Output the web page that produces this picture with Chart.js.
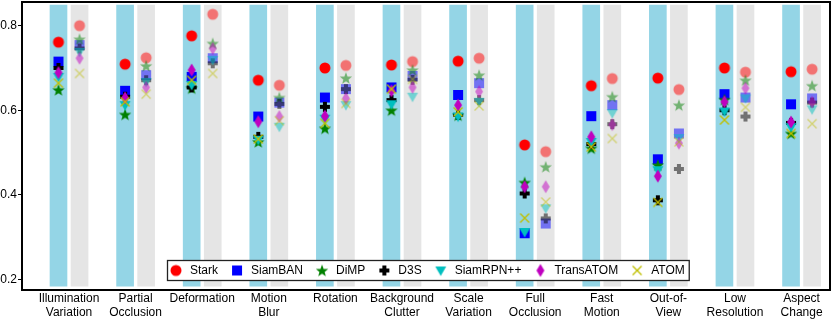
<!DOCTYPE html>
<html lang="en">
<head>
    <meta charset="UTF-8">
    <title>Attribute comparison</title>
    <script src="https://cdn.jsdelivr.net/npm/chart.js@4.4.0/dist/chart.umd.min.js"></script>
    <style>
        html, body { margin: 0; padding: 0; background: #fff; }
        canvas { display: block; }
    </style>
</head>
<body>
<canvas id="chart" width="831" height="324"></canvas>
<script>
    // attribute categories (x axis)
    const categories = [
        ['Illumination', 'Variation'], ['Partial', 'Occlusion'], ['Deformation'], ['Motion', 'Blur'],
        ['Rotation'], ['Background', 'Clutter'], ['Scale', 'Variation'], ['Full', 'Occlusion'],
        ['Fast', 'Motion'], ['Out-of-', 'View'], ['Low', 'Resolution'], ['Aspect', 'Change'],
    ]
    const yTicks = [0.2, 0.4, 0.6, 0.8]
    const barLow = 0.184
    const barHigh = 0.849

    const methods = ['Stark', 'SiamBAN', 'DiMP', 'D3S', 'SiamRPN++', 'TransATOM', 'ATOM']

    // left (blue) column of each group
    const starkA     = [0.761, 0.709, 0.776, 0.671, 0.700, 0.707, 0.716, 0.518, 0.658, 0.676, 0.700, 0.691]
    const siambanA   = [0.715, 0.646, 0.679, 0.585, 0.630, 0.654, 0.636, 0.309, 0.586, 0.484, 0.638, 0.614]
    const dimpA      = [0.648, 0.590, 0.652, 0.525, 0.557, 0.600, 0.588, 0.429, 0.510, 0.470, 0.625, 0.545]
    const d3sA       = [0.700, 0.632, 0.654, 0.537, 0.608, 0.624, 0.589, 0.403, 0.520, 0.387, 0.600, 0.570]
    const siamrpnA   = [0.679, 0.612, 0.660, 0.530, 0.580, 0.614, 0.585, 0.312, 0.525, 0.458, 0.597, 0.560]
    const transatomA = [0.689, 0.629, 0.695, 0.573, 0.586, 0.646, 0.612, 0.419, 0.537, 0.444, 0.620, 0.572]
    const atomA      = [0.664, 0.620, 0.671, 0.532, 0.569, 0.650, 0.596, 0.345, 0.513, 0.382, 0.577, 0.545]

    // right (grey) column of each group
    const starkB     = [0.800, 0.724, 0.827, 0.659, 0.706, 0.715, 0.723, 0.502, 0.675, 0.649, 0.690, 0.697]
    const siambanB   = [0.754, 0.683, 0.723, 0.618, 0.650, 0.681, 0.664, 0.332, 0.612, 0.545, 0.630, 0.628]
    const dimpB      = [0.768, 0.705, 0.758, 0.630, 0.676, 0.695, 0.683, 0.466, 0.632, 0.612, 0.671, 0.658]
    const d3sB       = [0.746, 0.671, 0.711, 0.615, 0.650, 0.672, 0.624, 0.344, 0.567, 0.461, 0.585, 0.618]
    const siamrpnB   = [0.738, 0.667, 0.719, 0.561, 0.612, 0.632, 0.620, 0.368, 0.593, 0.534, 0.628, 0.602]
    const transatomB = [0.723, 0.654, 0.746, 0.585, 0.628, 0.654, 0.644, 0.419, 0.566, 0.522, 0.652, 0.619]
    const atomB      = [0.687, 0.638, 0.687, 0.575, 0.616, 0.673, 0.610, 0.383, 0.533, 0.525, 0.607, 0.568]

    const seriesA = [starkA, siambanA, dimpA, d3sA, siamrpnA, transatomA, atomA]
    const seriesB = [starkB, siambanB, dimpB, d3sB, siamrpnB, transatomB, atomB]

    const shapes = ['circle', 'square', 'star', 'plus', 'triangleDown', 'diamond', 'x']
    const colors = ['#ff0000', '#0000ff', '#008000', '#000000', '#00bfbf', '#bf00bf', '#bfbf00']
    const offset = 0.158

    function makeMarker(shape, color, alpha) {
        const c = document.createElement('canvas')
        c.width = 16
        c.height = 16
        const g = c.getContext('2d')
        const m = 8
        g.globalAlpha = alpha
        g.fillStyle = color
        g.strokeStyle = color
        g.beginPath()
        if (shape === 'circle') {
            g.arc(m, m, 5.5, 0, Math.PI * 2)
        } else if (shape === 'square') {
            g.rect(m - 5, m - 5, 10, 10)
        } else if (shape === 'star') {
            for (let k = 0; k < 10; k++) {
                const r = k % 2 ? 2.7 : 6.5
                const a = -Math.PI / 2 + k * Math.PI / 5
                g.lineTo(m + r * Math.cos(a), m + 0.6 + r * Math.sin(a))
            }
            g.closePath()
        } else if (shape === 'plus') {
            const a = 5, b = 2
            const pts = [[-b, -a], [b, -a], [b, -b], [a, -b], [a, b], [b, b], [b, a], [-b, a], [-b, b], [-a, b], [-a, -b], [-b, -b]]
            pts.forEach(p => g.lineTo(m + p[0], m + p[1]))
            g.closePath()
        } else if (shape === 'triangleDown') {
            g.moveTo(m - 5.5, m - 4)
            g.lineTo(m + 5.5, m - 4)
            g.lineTo(m, m + 5.5)
            g.closePath()
        } else if (shape === 'diamond') {
            g.moveTo(m, m - 6.5)
            g.lineTo(m + 4, m)
            g.lineTo(m, m + 6.5)
            g.lineTo(m - 4, m)
            g.closePath()
        } else if (shape === 'x') {
            g.lineWidth = 1.4
            g.moveTo(m - 4.5, m - 4.5)
            g.lineTo(m + 4.5, m + 4.5)
            g.moveTo(m + 4.5, m - 4.5)
            g.lineTo(m - 4.5, m + 4.5)
            g.stroke()
            return c
        }
        g.fill()
        return c
    }

    const solidMarkers = shapes.map((s, k) => makeMarker(s, colors[k], 1))
    const fadedMarkers = shapes.map((s, k) => makeMarker(s, colors[k], 0.5))

    let datasets = [
        {
            type: 'bar',
            label: 'A',
            data: categories.map((c, i) => ({x: i - offset, y: [barLow, barHigh]})),
            backgroundColor: '#94d5e6',
            barThickness: 17,
            grouped: false,
            order: 20,
        },
        {
            type: 'bar',
            label: 'B',
            data: categories.map((c, i) => ({x: i + offset, y: [barLow, barHigh]})),
            backgroundColor: '#e5e5e5',
            barThickness: 17,
            grouped: false,
            order: 20,
        },
    ]

    methods.forEach(function (name, k) {
        datasets.push({
            type: 'scatter',
            label: name,
            data: seriesA[k].map((v, i) => ({x: i - offset, y: v})),
            pointStyle: solidMarkers[k],
            pointRadius: 6,
            showLine: false,
            order: 10 - k,
        })
        datasets.push({
            type: 'scatter',
            label: name + ' (B)',
            data: seriesB[k].map((v, i) => ({x: i + offset, y: v})),
            pointStyle: fadedMarkers[k],
            pointRadius: 6,
            showLine: false,
            order: 10 - k,
        })
    })

    const framePlugin = {
        id: 'frame',
        afterDatasetsDraw(chart) {
            const {ctx, chartArea: a} = chart
            ctx.save()
            ctx.strokeStyle = '#000'
            ctx.lineWidth = 2
            ctx.strokeRect(a.left, a.top, a.right - a.left, a.bottom - a.top)
            ctx.restore()
        },
    }

    const legendPlugin = {
        id: 'boxLegend',
        afterDraw(chart) {
            const {ctx, chartArea: a} = chart
            ctx.save()
            ctx.font = '12px "Liberation Sans", Arial, sans-serif'
            const widths = methods.map(m => ctx.measureText(m).width)
            const total = 9 + widths.reduce((s, w) => s + 14 + w, 0) + 19 * (methods.length - 1) + 4
            const left = Math.round((a.left + a.right) / 2 - total / 2) + 2
            const top = a.bottom - 30
            const h = 20
            ctx.fillStyle = '#fff'
            ctx.fillRect(left, top, total, h)
            ctx.strokeStyle = '#222'
            ctx.lineWidth = 1.3
            ctx.strokeRect(left + 0.5, top + 0.5, total, h)
            let x = left + 9
            const cy = top + h / 2 + 0.5
            ctx.textBaseline = 'middle'
            methods.forEach(function (m, k) {
                const img = solidMarkers[k]
                ctx.drawImage(img, x - img.width / 2, cy - img.height / 2)
                ctx.fillStyle = '#000'
                ctx.fillText(m, x + 14, cy)
                x += 14 + widths[k] + 19
            })
            ctx.restore()
        },
    }

    function noPadding(scale) {
        scale.paddingTop = 0
        scale.paddingBottom = 0
        scale.paddingLeft = 0
        scale.paddingRight = 0
    }

    Chart.defaults.font.family = '"Liberation Sans", Arial, sans-serif'
    Chart.defaults.font.size = 12
    Chart.defaults.color = '#000'

    new Chart(document.getElementById('chart'), {
        type: 'bar',
        data: {datasets: datasets},
        options: {
            responsive: false,
            animation: false,
            layout: {autoPadding: false, padding: {top: 2, right: 1, left: 0, bottom: 0}},
            plugins: {
                legend: {display: false},
                tooltip: {enabled: false},
            },
            scales: {
                x: {
                    type: 'linear',
                    offset: false,
                    min: -0.706,
                    max: 11.427,
                    grid: {display: false, drawTicks: false},
                    border: {display: false},
                    afterBuildTicks: scale => {
                        scale.ticks = categories.map((c, i) => ({value: i}))
                    },
                    afterFit: scale => {
                        scale.height = 34
                        noPadding(scale)
                    },
                    ticks: {
                        autoSkip: false,
                        maxRotation: 0,
                        padding: 2,
                        font: {size: 12, lineHeight: 1.17},
                        callback: value => categories[value],
                    },
                },
                y: {
                    min: 0.1747,
                    max: 0.856,
                    grid: {display: true, drawOnChartArea: false, drawTicks: true, tickLength: 4, color: '#000'},
                    border: {display: false},
                    afterBuildTicks: scale => {
                        scale.ticks = yTicks.map(v => ({value: v}))
                    },
                    afterFit: scale => {
                        scale.width = 22
                        noPadding(scale)
                    },
                    ticks: {
                        padding: 1,
                        font: {size: 12},
                        callback: value => value.toFixed(1),
                    },
                },
            },
        },
        plugins: [framePlugin, legendPlugin],
    })
</script>
</body>
</html>
